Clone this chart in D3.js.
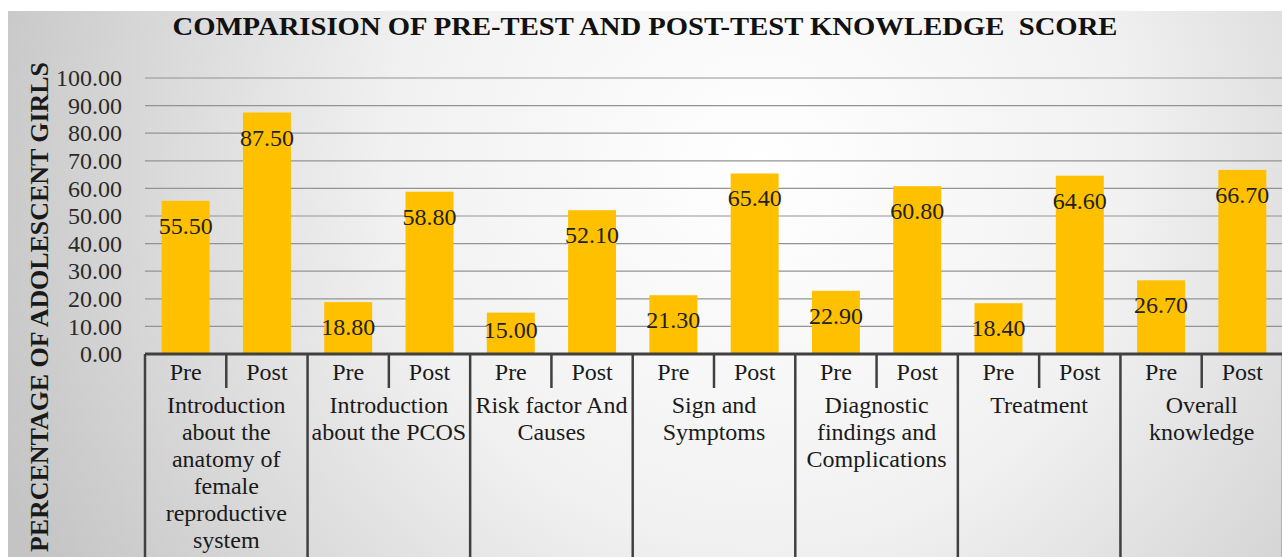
<!DOCTYPE html>
<html>
<head>
<meta charset="utf-8">
<script src="https://cdn.jsdelivr.net/npm/d3@7"></script>
<style>
  html, body { margin: 0; padding: 0; background: #fff; }
  svg { display: block; }
  svg text { font-family: "Liberation Serif", serif; white-space: pre; }
</style>
</head>
<body>
<svg id="chart" width="1282" height="557"></svg>
<script>
const width = 1282;
const height = 557;
const serif = "Liberation Serif";

// data
const categories = [
  ["Introduction", "about the", "anatomy of", "female", "reproductive", "system"],
  ["Introduction", "about the PCOS"],
  ["Risk factor And", "Causes"],
  ["Sign and", "Symptoms"],
  ["Diagnostic", "findings and", "Complications"],
  ["Treatment"],
  ["Overall", "knowledge"]
];
const phases = ["Pre", "Post"];
const preScores  = [55.50, 18.80, 15.00, 21.30, 22.90, 18.40, 26.70];
const postScores = [87.50, 58.80, 52.10, 65.40, 60.80, 64.60, 66.70];
const yTicks = [0, 10, 20, 30, 40, 50, 60, 70, 80, 90, 100];

const chartTitle = "COMPARISION OF PRE-TEST AND POST-TEST KNOWLEDGE  SCORE";
const yTitle = "PERCENTAGE OF ADOLESCENT GIRLS";

const rows = [];
categories.forEach((c, i) => {
  rows.push({ cat: i, phase: "Pre",  value: preScores[i] });
  rows.push({ cat: i, phase: "Post", value: postScores[i] });
});

const svg = d3.select("#chart");

// background panel with soft radial shading
const defs = svg.append("defs");
const bg = defs.append("radialGradient")
  .attr("id", "bg-grad")
  .attr("gradientUnits", "userSpaceOnUse")
  .attr("cx", 760).attr("cy", 170).attr("r", 820);
bg.append("stop").attr("offset", "0%").attr("stop-color", "#ffffff");
bg.append("stop").attr("offset", "45%").attr("stop-color", "#f1f1f1");
bg.append("stop").attr("offset", "100%").attr("stop-color", "#c4c4c4");

svg.append("rect")
  .attr("x", 8).attr("y", 11)
  .attr("width", width - 8).attr("height", height - 11)
  .attr("fill", "url(#bg-grad)");

// scales
const x0 = d3.scaleBand()
  .domain(d3.range(categories.length))
  .range([145, 1283])
  .padding(0);

const x1 = d3.scaleBand()
  .domain(phases)
  .range([0, x0.bandwidth()])
  .paddingInner(0.41)
  .paddingOuter(0.205);

const y = d3.scaleLinear()
  .domain([0, 100])
  .range([354, 78]);

// gridlines
svg.append("g")
  .attr("class", "grid")
  .selectAll("line")
  .data(yTicks.filter(d => d > 0))
  .join("line")
    .attr("x1", 145)
    .attr("x2", width)
    .attr("y1", d => y(d))
    .attr("y2", d => y(d))
    .attr("stroke", "#939393")
    .attr("stroke-width", 1.2);

// y axis labels
const yAxis = d3.axisLeft(y)
  .tickValues(yTicks)
  .tickFormat(d3.format(".2f"))
  .tickSize(0)
  .tickPadding(23);

svg.append("g")
  .attr("transform", "translate(145,0)")
  .call(yAxis)
  .attr("font-family", serif)
  .attr("font-size", 24)
  .call(g => g.select(".domain").remove())
  .selectAll("text")
    .attr("font-family", serif)
    .attr("fill", "#2a2a2a");

// bars
svg.append("g")
  .selectAll("rect")
  .data(rows)
  .join("rect")
    .attr("x", d => x0(d.cat) + x1(d.phase))
    .attr("y", d => y(d.value))
    .attr("width", x1.bandwidth())
    .attr("height", d => y(0) - y(d.value))
    .attr("fill", "#ffc000");

// value labels
svg.append("g")
  .selectAll("text")
  .data(rows)
  .join("text")
    .attr("x", d => x0(d.cat) + x1(d.phase) + x1.bandwidth() / 2)
    .attr("y", d => Math.min(y(d.value) + 33, y(0) - 16))
    .attr("text-anchor", "middle")
    .attr("font-family", serif)
    .attr("font-size", 24)
    .attr("fill", "#222")
    .text(d => d3.format(".2f")(d.value));

// x axis: table style box
const axisG = svg.append("g").attr("class", "x-axis");
const lineColor = "#404040";

axisG.append("line")
  .attr("x1", 145).attr("x2", width)
  .attr("y1", y(0)).attr("y2", y(0))
  .attr("stroke", lineColor)
  .attr("stroke-width", 3);

axisG.selectAll("line.group-sep")
  .data(d3.range(categories.length + 1))
  .join("line")
    .attr("class", "group-sep")
    .attr("x1", i => i < categories.length ? x0(i) : x0(i - 1) + x0.bandwidth())
    .attr("x2", i => i < categories.length ? x0(i) : x0(i - 1) + x0.bandwidth())
    .attr("y1", y(0))
    .attr("y2", height)
    .attr("stroke", lineColor)
    .attr("stroke-width", 2.5);

axisG.selectAll("line.phase-sep")
  .data(d3.range(categories.length))
  .join("line")
    .attr("class", "phase-sep")
    .attr("x1", i => x0(i) + x0.bandwidth() / 2)
    .attr("x2", i => x0(i) + x0.bandwidth() / 2)
    .attr("y1", y(0))
    .attr("y2", 388)
    .attr("stroke", lineColor)
    .attr("stroke-width", 2.5);

// Pre / Post labels
axisG.selectAll("text.phase")
  .data(rows)
  .join("text")
    .attr("class", "phase")
    .attr("x", d => x0(d.cat) + x1(d.phase) + x1.bandwidth() / 2)
    .attr("y", 380)
    .attr("text-anchor", "middle")
    .attr("font-family", serif)
    .attr("font-size", 24)
    .attr("fill", "#1a1a1a")
    .text(d => d.phase);

// category labels, wrapped lines
const catText = axisG.selectAll("text.cat")
  .data(categories)
  .join("text")
    .attr("class", "cat")
    .attr("text-anchor", "middle")
    .attr("font-family", serif)
    .attr("font-size", 24)
    .attr("fill", "#1a1a1a");

catText.selectAll("tspan")
  .data((d, i) => d.map(line => ({ line, i })))
  .join("tspan")
    .attr("x", d => x0(d.i) + x0.bandwidth() / 2)
    .attr("y", (d, j) => 413 + j * 27)
    .text(d => d.line);

// titles
svg.append("text")
  .attr("x", 645)
  .attr("y", 35)
  .attr("text-anchor", "middle")
  .attr("textLength", 945)
  .attr("lengthAdjust", "spacingAndGlyphs")
  .attr("font-family", serif)
  .attr("font-size", 25)
  .attr("font-weight", "bold")
  .attr("fill", "#111")
  .text(chartTitle);

svg.append("text")
  .attr("transform", "translate(48,307) rotate(-90)")
  .attr("text-anchor", "middle")
  .attr("textLength", 490)
  .attr("lengthAdjust", "spacingAndGlyphs")
  .attr("font-family", serif)
  .attr("font-size", 25)
  .attr("font-weight", "bold")
  .attr("fill", "#1a1a1a")
  .text(yTitle);
</script>
</body>
</html>
